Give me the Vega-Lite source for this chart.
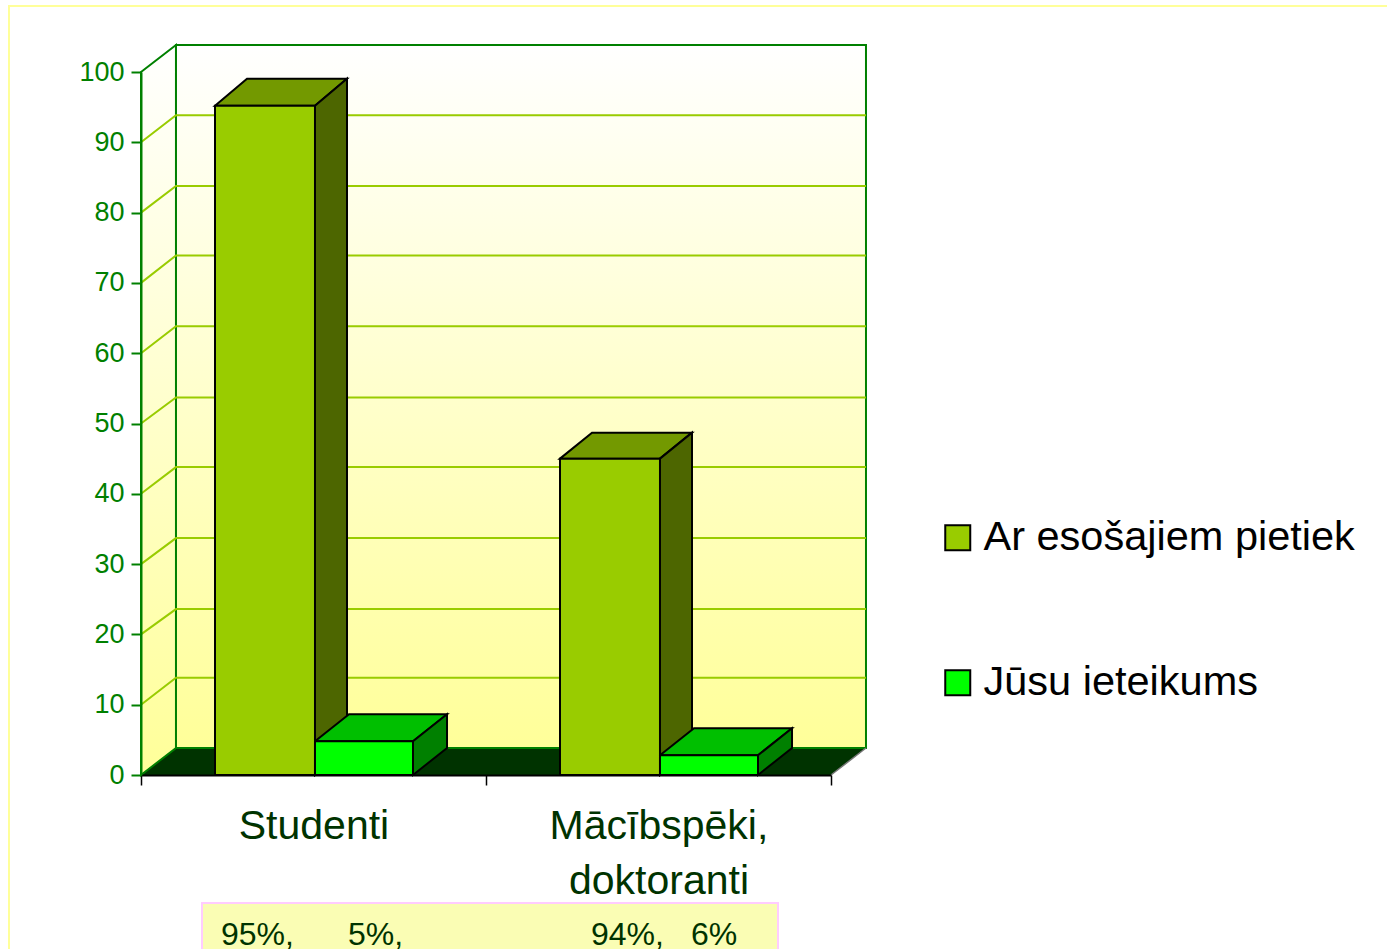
{"$schema":"https://vega.github.io/schema/vega-lite/v6.json","width":690,"height":703,"autosize":{"type":"none"},"padding":{"left":141,"right":556,"top":72,"bottom":174},"background":"white","config":{"view":{"stroke":null},"font":"Liberation Sans"},
"datasets":{
"frame":[{"x":-0.3826,"x2":3.649,"top":109.39,"bottom":-26.3}],
"table":[{"x":0.1768,"x2":1.8464,"top":-18.2,"bottom":-26.3}],
"floor":[{"x":0,"top":0,"bottom":0},{"x":0.1014,"top":3.84,"bottom":0},{"x":2,"top":3.84,"bottom":0},{"x":2.1014,"top":3.84,"bottom":3.84}],
"leftWall":[{"x":0,"top":100,"bottom":0},{"x":0.1014,"top":103.84,"bottom":3.84}],
"backWall":[{"x":0.1014,"x2":2.1014,"top":103.84,"bottom":3.84}],
"floorEdge":[{"x":2,"y":0},{"x":2.1014,"y":3.84}],
"grid":[
{"tick":10,"x":0,"y":10},{"tick":10,"x":0.1014,"y":13.84},{"tick":10,"x":2.1014,"y":13.84},
{"tick":20,"x":0,"y":20},{"tick":20,"x":0.1014,"y":23.6},{"tick":20,"x":2.1014,"y":23.6},
{"tick":30,"x":0,"y":30},{"tick":30,"x":0.1014,"y":33.7},{"tick":30,"x":2.1014,"y":33.7},
{"tick":40,"x":0,"y":40},{"tick":40,"x":0.1014,"y":43.8},{"tick":40,"x":2.1014,"y":43.8},
{"tick":50,"x":0,"y":50},{"tick":50,"x":0.1014,"y":53.7},{"tick":50,"x":2.1014,"y":53.7},
{"tick":60,"x":0,"y":60},{"tick":60,"x":0.1014,"y":63.84},{"tick":60,"x":2.1014,"y":63.84},
{"tick":70,"x":0,"y":70},{"tick":70,"x":0.1014,"y":73.9},{"tick":70,"x":2.1014,"y":73.9},
{"tick":80,"x":0,"y":80},{"tick":80,"x":0.1014,"y":83.8},{"tick":80,"x":2.1014,"y":83.8},
{"tick":90,"x":0,"y":90},{"tick":90,"x":0.1014,"y":93.84},{"tick":90,"x":2.1014,"y":93.84}],
"bars":[
{"category":"Studenti","series":"Ar esošajiem pietiek","x":0.2145,"x2":0.5043,"value":95.2},
{"category":"Studenti","series":"Jūsu ieteikums","x":0.5043,"x2":0.7884,"value":4.8},
{"category":"Mācībspēki, doktoranti","series":"Ar esošajiem pietiek","x":1.2145,"x2":1.5043,"value":45},
{"category":"Mācībspēki, doktoranti","series":"Jūsu ieteikums","x":1.5043,"x2":1.7884,"value":2.8}],
"facesA":[
{"id":"s-top","face":"top","x":0.2145,"top":95.2,"bottom":95.2},{"id":"s-top","face":"top","x":0.3073,"top":99.04,"bottom":95.2},{"id":"s-top","face":"top","x":0.5043,"top":99.04,"bottom":95.2},{"id":"s-top","face":"top","x":0.5971,"top":99.04,"bottom":99.04},
{"id":"s-side","face":"side","x":0.5043,"top":95.2,"bottom":0},{"id":"s-side","face":"side","x":0.5971,"top":99.04,"bottom":3.84},
{"id":"m-top","face":"top","x":1.2145,"top":45,"bottom":45},{"id":"m-top","face":"top","x":1.3073,"top":48.7,"bottom":45},{"id":"m-top","face":"top","x":1.5043,"top":48.7,"bottom":45},{"id":"m-top","face":"top","x":1.5971,"top":48.7,"bottom":48.7},
{"id":"m-side","face":"side","x":1.5043,"top":45,"bottom":0},{"id":"m-side","face":"side","x":1.5971,"top":48.7,"bottom":3.84}],
"facesB":[
{"id":"s-top","face":"top","x":0.5043,"top":4.8,"bottom":4.8},{"id":"s-top","face":"top","x":0.6029,"top":8.64,"bottom":4.8},{"id":"s-top","face":"top","x":0.7884,"top":8.64,"bottom":4.8},{"id":"s-top","face":"top","x":0.887,"top":8.64,"bottom":8.64},
{"id":"s-side","face":"side","x":0.7884,"top":4.8,"bottom":0},{"id":"s-side","face":"side","x":0.887,"top":8.64,"bottom":3.84},
{"id":"m-top","face":"top","x":1.5043,"top":2.8,"bottom":2.8},{"id":"m-top","face":"top","x":1.6029,"top":6.64,"bottom":2.8},{"id":"m-top","face":"top","x":1.7884,"top":6.64,"bottom":2.8},{"id":"m-top","face":"top","x":1.887,"top":6.64,"bottom":6.64},
{"id":"m-side","face":"side","x":1.7884,"top":2.8,"bottom":0},{"id":"m-side","face":"side","x":1.887,"top":6.64,"bottom":3.84}],
"catLabels":[{"label":"Studenti","x":0.5014,"y":-9.1},{"label":"Mācībspēki,","x":1.5014,"y":-9.1},{"label":"doktoranti","x":1.5014,"y":-16.93}],
"tableLabels":[{"label":"95%,","x":0.2319,"y":-24.18},{"label":"5%,","x":0.6,"y":-24.18},{"label":"94%,","x":1.3043,"y":-24.18},{"label":"6%","x":1.5942,"y":-24.18}]
},
"resolve":{"scale":{"color":"independent"}},
"layer":[
{"data":{"name":"frame"},"mark":{"type":"rect","fill":null,"stroke":"#FFFF99","strokeWidth":2},
"encoding":{"x":{"field":"x","type":"quantitative","scale":{"domain":[0,2],"nice":false,"zero":false},"title":null,
"axis":{"values":[0,1,2],"labels":false,"tickSize":10,"tickColor":"#000000","tickWidth":1.5,"domainColor":"#000000","domainWidth":2,"grid":false,"zindex":1,"title":null}},"x2":{"field":"x2"},
"y":{"field":"top","type":"quantitative","scale":{"domain":[0,100],"nice":false,"zero":false},"title":null,
"axis":{"values":[0,10,20,30,40,50,60,70,80,90,100],"tickSize":10,"tickColor":"#008000","tickWidth":2,"domainColor":"#008000","domainWidth":2,"labelColor":"#008000","labelFontSize":27,"labelPadding":7,"grid":false,"zindex":1,"title":null}},"y2":{"field":"bottom"}}},
{"data":{"name":"floor"},"mark":{"type":"area","fill":"#003300"},"encoding":{"x":{"field":"x","type":"quantitative"},"y":{"field":"top","type":"quantitative","stack":null},"y2":{"field":"bottom"}}},
{"data":{"name":"leftWall"},"mark":{"type":"area","stroke":"#008000","strokeWidth":2,"fill":{"gradient":"linear","x1":0,"y1":0,"x2":0,"y2":1,"stops":[{"offset":0,"color":"#FFFFFF"},{"offset":1,"color":"#FFFF99"}]}},"encoding":{"x":{"field":"x","type":"quantitative"},"y":{"field":"top","type":"quantitative","stack":null},"y2":{"field":"bottom"}}},
{"data":{"name":"backWall"},"mark":{"type":"rect","stroke":"#008000","strokeWidth":2,"fill":{"gradient":"linear","x1":0,"y1":0,"x2":0,"y2":1,"stops":[{"offset":0,"color":"#FFFFFF"},{"offset":1,"color":"#FFFF99"}]}},"encoding":{"x":{"field":"x","type":"quantitative"},"x2":{"field":"x2"},"y":{"field":"top","type":"quantitative"},"y2":{"field":"bottom"}}},
{"data":{"name":"floorEdge"},"mark":{"type":"line","stroke":"#777777","strokeWidth":1.5},"encoding":{"x":{"field":"x","type":"quantitative"},"y":{"field":"y","type":"quantitative"}}},
{"data":{"name":"grid"},"mark":{"type":"line","stroke":"#99CC00","strokeWidth":2},"encoding":{"x":{"field":"x","type":"quantitative"},"y":{"field":"y","type":"quantitative"},"detail":{"field":"tick"}}},
{"data":{"name":"facesA"},"mark":{"type":"area","stroke":"#000000","strokeWidth":2},"encoding":{"x":{"field":"x","type":"quantitative"},"y":{"field":"top","type":"quantitative","stack":null},"y2":{"field":"bottom"},"detail":{"field":"id"},"color":{"field":"face","type":"nominal","scale":{"domain":["top","side"],"range":["#739900","#4D6600"]},"legend":null}}},
{"data":{"name":"facesB"},"mark":{"type":"area","stroke":"#000000","strokeWidth":2},"encoding":{"x":{"field":"x","type":"quantitative"},"y":{"field":"top","type":"quantitative","stack":null},"y2":{"field":"bottom"},"detail":{"field":"id"},"color":{"field":"face","type":"nominal","scale":{"domain":["top","side"],"range":["#00BF00","#008000"]},"legend":null}}},
{"data":{"name":"bars"},"mark":{"type":"rect","stroke":"#000000","strokeWidth":2},"encoding":{"x":{"field":"x","type":"quantitative"},"x2":{"field":"x2"},"y":{"field":"value","type":"quantitative"},"y2":{"datum":0},
"color":{"field":"series","type":"nominal","scale":{"domain":["Ar esošajiem pietiek","Jūsu ieteikums"],"range":["#99CC00","#00FF00"]},
"legend":{"title":null,"orient":"none","legendX":796,"legendY":445,"symbolType":"square","symbolSize":625,"symbolStrokeColor":"#000000","symbolStrokeWidth":2,"symbolOpacity":1,"labelFontSize":41.5,"labelColor":"#000000","labelOffset":5,"labelLimit":500,"rowPadding":102,"labelFont":"Liberation Sans"}}}},
{"data":{"name":"catLabels"},"mark":{"type":"text","align":"center","baseline":"alphabetic","fontSize":41,"fill":"#003300"},"encoding":{"x":{"field":"x","type":"quantitative"},"y":{"field":"y","type":"quantitative"},"text":{"field":"label"}}},
{"data":{"name":"table"},"mark":{"type":"rect","fill":"#FAFDB4","stroke":"#FFCCFF","strokeWidth":2},"encoding":{"x":{"field":"x","type":"quantitative"},"x2":{"field":"x2"},"y":{"field":"top","type":"quantitative"},"y2":{"field":"bottom"}}},
{"data":{"name":"tableLabels"},"mark":{"type":"text","align":"left","baseline":"alphabetic","fontSize":32,"fill":"#003300"},"encoding":{"x":{"field":"x","type":"quantitative"},"y":{"field":"y","type":"quantitative"},"text":{"field":"label"}}}
]}
